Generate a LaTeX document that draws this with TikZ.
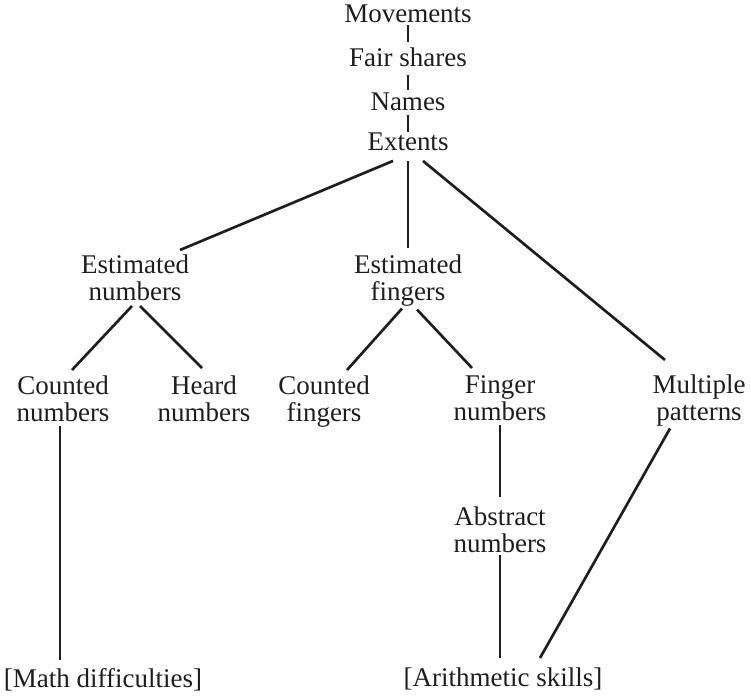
\documentclass[tikz,border=0pt]{standalone}
\usepackage{fontspec}
\setmainfont{Liberation Serif}
\usetikzlibrary{calc}
\definecolor{ink}{HTML}{1E1E1E}
\tikzstyle{topic} = [anchor = north, align = center, inner sep = 0pt, outer sep = 0pt, text = ink, font = \fontsize{19.2}{19.2}\selectfont]
\tikzstyle{line} = [draw, ink, line width = 1.9pt]

\begin{document}
\begin{tikzpicture}[x = 0.025cm, y = -0.025cm]
			\useasboundingbox (0, 0) rectangle (751, 699);
			% Place nodes
			\node [topic] (mov) at (408, 5) {Movements};
			\node [topic] (fair) at (408, 48) {Fair shares};
			\node [topic] (names) at (408, 93) {Names};
			\node [topic] (ext) at (408, 133) {Extents};
			\node [topic] (en) at (135, 255) {Estimated\\numbers};
			\node [topic] (ef) at (408, 255) {Estimated\\fingers};
			\node [topic] (cn) at (63, 376) {Counted\\numbers};
			\node [topic] (hn) at (204, 376) {Heard\\numbers};
			\node [topic] (cf) at (324, 376) {Counted\\fingers};
			\node [topic] (fn) at (500, 376) {Finger\\numbers};
			\node [topic] (mp) at (699, 375) {Multiple\\patterns};
			\node [topic] (an) at (500, 507) {Abstract\\numbers};
			\node [topic] (md) at (103, 668) {[Math difficulties]};
			\node [topic] (as) at (503, 668) {[Arithmetic skills]};

			% Draw edges
			\path [line] ($(mov.south)+(0, 2)$) -- ($(fair.north)+(0, -6)$);
			\path [line] ($(fair.south)+(0, 8)$) -- ($(names.north)+(0, -3)$);
			\path [line] ($(names.south)+(0, 4)$) -- ($(ext.north)+(0, -1)$);
			\path [line] ($(ext.south)+(-15, 10)$) -- ($(en.north)+(45, -5)$);
			\path [line] ($(ext.south)+(0, 10)$) -- ($(ef.north)+(0, -7)$);
			\path [line] ($(ext.south)+(15, 10)$) -- ($(mp.north)+(-34, -15)$);
			\path [line] ($(en.south)+(-3, 5)$) -- ($(cn.north)+(9, -6)$);
			\path [line] ($(en.south)+(5, 5)$) -- ($(hn.north)+(-2, -8)$);
			\path [line] ($(ef.south)+(-6, 2)$) -- ($(cf.north)+(23, -6)$);
			\path [line] ($(ef.south)+(9, 3)$) -- ($(fn.north)+(-28, -8)$);
			\path [line] ($(cn.south)+(-3, 4)$) -- ($(cn.south |- md.north)+(-3, -8)$);
			\path [line] ($(fn.south)+(0, 4)$) -- ($(an.north)+(0, -10)$);
			\path [line] ($(an.south)+(0, 2)$) -- ($(as.north)+(-3, -10)$);
			\path [line] ($(mp.south)+(-29, 2)$) -- ($(as.north)+(37, -10)$);
\end{tikzpicture}
\end{document}
